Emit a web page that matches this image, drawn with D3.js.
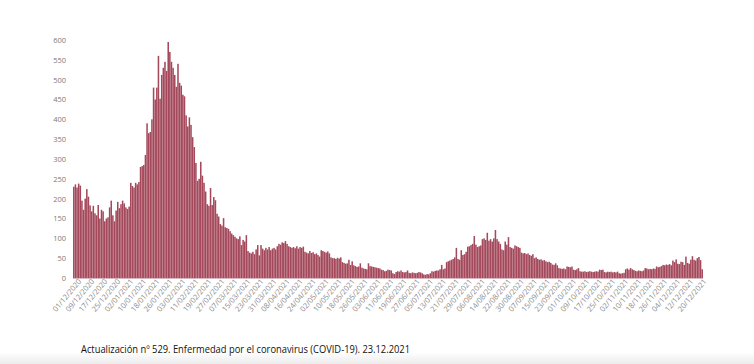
<!DOCTYPE html>
<html><head><meta charset="utf-8">
<script src="https://cdn.jsdelivr.net/npm/d3@7"></script>
<style>
html,body{margin:0;padding:0;background:#fff;}
svg{display:block;}
.ax text{opacity:0.99;}
</style></head>
<body>
<svg id="chart" width="754" height="364"></svg>
<script>
const startDate = "2020-12-01";
const values = [
230,236,228,238,233,195,172,200,224,205,
183,168,182,163,158,184,150,172,168,143,
150,153,178,195,158,143,170,192,176,186,
195,188,178,174,180,240,232,228,240,236,
242,280,282,285,310,390,365,368,400,480,
450,480,560,452,512,530,545,522,595,570,
545,530,512,482,540,492,485,462,458,410,
382,405,386,355,330,290,245,250,293,258,
240,218,186,182,227,184,204,196,162,155,
136,132,151,128,126,124,118,112,108,104,
100,98,105,83,96,92,108,68,64,62,
66,60,72,83,57,83,74,70,76,72,
78,70,74,76,72,80,86,84,90,88,
93,86,80,78,76,78,75,80,74,78,
76,79,66,64,62,68,63,65,60,62,
58,54,70,68,66,64,67,62,52,50,
50,48,51,49,52,40,38,36,37,46,
33,42,32,30,28,29,37,26,24,23,
22,37,30,29,28,27,26,25,24,21,
20,17,18,21,20,19,12,10,15,17,
16,19,15,14,15,19,13,12,14,13,
12,13,15,14,12,9,8,10,9,12,
17,16,18,19,19,22,33,22,24,40,
42,44,46,48,52,76,48,46,70,58,
60,66,79,80,83,86,106,84,78,80,
82,98,100,96,114,94,98,92,100,121,
98,92,86,72,70,92,84,103,78,76,
74,82,80,78,76,64,62,63,60,62,
58,56,60,50,52,48,46,47,44,45,
42,40,41,38,34,33,37,32,25,24,
23,24,22,29,28,27,29,21,20,22,
25,17,16,16,17,15,16,17,16,15,
16,17,16,21,20,21,15,14,16,15,
16,14,15,14,16,12,11,12,13,22,
24,21,25,22,20,18,17,19,18,17,
19,25,24,22,23,22,24,23,29,27,
28,30,33,32,34,33,35,32,44,40,
47,36,35,41,40,33,54,38,36,46,
55,46,44,50,53,45,22
];
const xTickLabels = [
"01/12/2020","09/12/2020","17/12/2020","25/12/2020","02/01/2021","10/01/2021","18/01/2021","26/01/2021",
"03/02/2021","11/02/2021","19/02/2021","27/02/2021","07/03/2021","15/03/2021","23/03/2021","31/03/2021",
"08/04/2021","16/04/2021","24/04/2021","02/05/2021","10/05/2021","18/05/2021","26/05/2021","03/06/2021",
"11/06/2021","19/06/2021","27/06/2021","05/07/2021","13/07/2021","21/07/2021","29/07/2021","06/08/2021",
"14/08/2021","22/08/2021","30/08/2021","07/09/2021","15/09/2021","23/09/2021","01/10/2021","09/10/2021",
"17/10/2021","25/10/2021","02/11/2021","10/11/2021","18/11/2021","26/11/2021","04/12/2021","12/12/2021",
"20/12/2021"
];
const yTicks = [0,50,100,150,200,250,300,350,400,450,500,550,600];
const footer = "Actualización nº 529. Enfermedad por el coronavirus (COVID-19). 23.12.2021";

const fmt = d3.timeFormat("%d/%m/%Y");
const d0 = d3.timeParse("%Y-%m-%d")(startDate);
const categories = values.map((v,i)=>fmt(d3.timeDay.offset(d0,i)));
const data = categories.map((c,i)=>({c, v: values[i]}));

const svg = d3.select("#chart");
const m = {left:73, right:51, top:40, bottom:86};
const W = 754, H = 364;
const x = d3.scaleBand().domain(categories).range([m.left, W-m.right]).paddingInner(0.06).paddingOuter(0.02);
const y = d3.scaleLinear().domain([0,600]).range([H-m.bottom, m.top]);

const defs = svg.append("defs");
const g1 = defs.append("linearGradient").attr("id","shade").attr("x1",0).attr("x2",0).attr("y1",0).attr("y2",1);
g1.append("stop").attr("offset","0%").attr("stop-color","#ffffff");
g1.append("stop").attr("offset","100%").attr("stop-color","#ececec");
svg.append("rect").attr("x",0).attr("y",352).attr("width",W).attr("height",12).attr("fill","url(#shade)");

svg.append("g").selectAll("rect").data(data).join("rect")
  .attr("x", d=>x(d.c)).attr("width", x.bandwidth())
  .attr("y", d=>y(d.v)).attr("height", d=>y(0)-y(d.v))
  .attr("fill","#a4485b");

svg.append("line").attr("x1",m.left).attr("x2",W-m.right).attr("y1",y(0)+0.5).attr("y2",y(0)+0.5)
  .attr("stroke","#d9b7be").attr("stroke-width",1);

const yAxis = svg.append("g").attr("class","ax").attr("transform",`translate(${m.left},0)`)
  .call(d3.axisLeft(y).tickValues(yTicks).tickSize(0).tickPadding(7));
yAxis.select(".domain").remove();
yAxis.selectAll("text").attr("font-family","Open Sans, sans-serif").attr("font-size","7.5px").attr("fill","#7a7a7a");

const xAxis = svg.append("g").attr("class","ax").attr("transform",`translate(0,${y(0)})`)
  .call(d3.axisBottom(x).tickValues(xTickLabels).tickSize(0).tickPadding(4));
xAxis.select(".domain").remove();
xAxis.selectAll("text")
  .attr("font-family","Open Sans, sans-serif").attr("font-size","7.5px").attr("fill","#8c8c8c")
  .attr("text-anchor","end").attr("dx","0.3em").attr("dy","0.6em")
  .attr("transform","rotate(-50)");

svg.append("text").attr("x",81).attr("y",353)
  .attr("font-family","Open Sans, sans-serif").attr("font-size","10.5px").attr("fill","#111")
  .attr("textLength",329).attr("lengthAdjust","spacingAndGlyphs")
  .text(footer);
</script>
</body></html>
